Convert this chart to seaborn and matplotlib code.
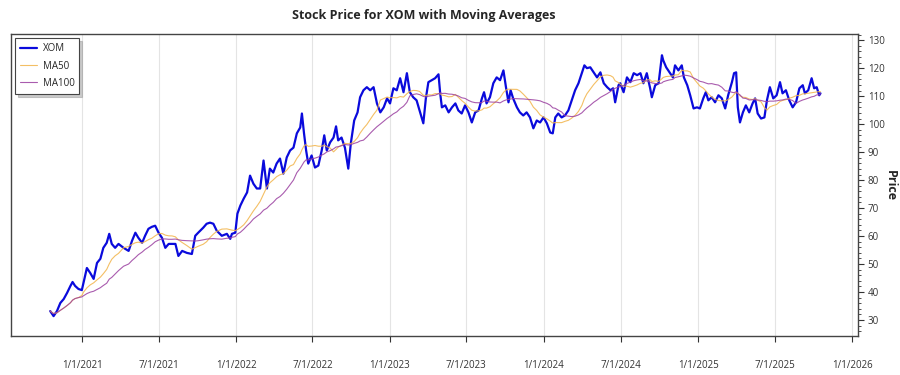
import pandas as pd
import matplotlib
matplotlib.use("Agg")
import matplotlib.pyplot as plt
import matplotlib.dates as mdates
from matplotlib.ticker import MultipleLocator
import seaborn as sns

# ── data (XOM close, roughly weekly samples) ──
dates = [
    "2020-10-17", "2020-10-25", "2020-11-02", "2020-11-10", "2020-11-18", "2020-11-26", "2020-12-04", "2020-12-09", "2020-12-15", "2020-12-23", "2020-12-31",
    "2021-01-04", "2021-01-12", "2021-01-20", "2021-01-28", "2021-02-05", "2021-02-13", "2021-02-20", "2021-02-28", "2021-03-06", "2021-03-12", "2021-03-20", "2021-03-28",
    "2021-04-09", "2021-04-21", "2021-04-29", "2021-05-07", "2021-05-14", "2021-05-23", "2021-05-30", "2021-06-07", "2021-06-15", "2021-06-23",
    "2021-07-01", "2021-07-09", "2021-07-17", "2021-07-25", "2021-08-02", "2021-08-10", "2021-08-17", "2021-08-26", "2021-09-06", "2021-09-18", "2021-09-26",
    "2021-10-03", "2021-10-15", "2021-10-23", "2021-10-31", "2021-11-08", "2021-11-16", "2021-11-28", "2021-12-10", "2021-12-18", "2021-12-22", "2021-12-30",
    "2022-01-04", "2022-01-11", "2022-01-19", "2022-01-27", "2022-02-03", "2022-02-11", "2022-02-19", "2022-02-27", "2022-03-07", "2022-03-15", "2022-03-22", "2022-03-30",
    "2022-04-07", "2022-04-15", "2022-04-23", "2022-05-01", "2022-05-09", "2022-05-17", "2022-05-25", "2022-06-02", "2022-06-06", "2022-06-11", "2022-06-16", "2022-06-21", "2022-06-29",
    "2022-07-07", "2022-07-15", "2022-07-23", "2022-07-29", "2022-08-04", "2022-08-12", "2022-08-20", "2022-08-26", "2022-08-31", "2022-09-08", "2022-09-16", "2022-09-24", "2022-09-30",
    "2022-10-08", "2022-10-16", "2022-10-22", "2022-10-30", "2022-11-07", "2022-11-15", "2022-11-23", "2022-12-01", "2022-12-09", "2022-12-17", "2022-12-25",
    "2023-01-01", "2023-01-09", "2023-01-17", "2023-01-25", "2023-02-02", "2023-02-10", "2023-02-17", "2023-02-25", "2023-03-05", "2023-03-12", "2023-03-21", "2023-03-27",
    "2023-04-02", "2023-04-10", "2023-04-18", "2023-04-26", "2023-04-30", "2023-05-04", "2023-05-12", "2023-05-20", "2023-05-28", "2023-06-05", "2023-06-12", "2023-06-20", "2023-06-28",
    "2023-07-06", "2023-07-14", "2023-07-22", "2023-07-30", "2023-08-07", "2023-08-12", "2023-08-18", "2023-08-26", "2023-09-03", "2023-09-11", "2023-09-19", "2023-09-27",
    "2023-10-03", "2023-10-09", "2023-10-14", "2023-10-20", "2023-10-29", "2023-11-05", "2023-11-13", "2023-11-21", "2023-11-29", "2023-12-07", "2023-12-15", "2023-12-23", "2023-12-31",
    "2024-01-08", "2024-01-16", "2024-01-22", "2024-01-28", "2024-02-04", "2024-02-12", "2024-02-20", "2024-02-28", "2024-03-07", "2024-03-15", "2024-03-23", "2024-03-31",
    "2024-04-06", "2024-04-12", "2024-04-20", "2024-04-28", "2024-05-06", "2024-05-14", "2024-05-22", "2024-05-30", "2024-06-07", "2024-06-13", "2024-06-18", "2024-06-26",
    "2024-06-30", "2024-07-08", "2024-07-16", "2024-07-24", "2024-08-01", "2024-08-09", "2024-08-17", "2024-08-24", "2024-09-01", "2024-09-09", "2024-09-13", "2024-09-21", "2024-09-29",
    "2024-10-07", "2024-10-10", "2024-10-17", "2024-10-25", "2024-11-02", "2024-11-07", "2024-11-15", "2024-11-23", "2024-11-28", "2024-12-06", "2024-12-13", "2024-12-21", "2024-12-29",
    "2025-01-05", "2025-01-13", "2025-01-19", "2025-01-25", "2025-02-02", "2025-02-10", "2025-02-18", "2025-02-26", "2025-03-06", "2025-03-13", "2025-03-22", "2025-03-27",
    "2025-04-01", "2025-04-05", "2025-04-10", "2025-04-17", "2025-04-24", "2025-05-02", "2025-05-10", "2025-05-16", "2025-05-22", "2025-05-30", "2025-06-07", "2025-06-13", "2025-06-20", "2025-06-28",
    "2025-07-06", "2025-07-14", "2025-07-20", "2025-07-28", "2025-08-05", "2025-08-13", "2025-08-21", "2025-08-29", "2025-09-06", "2025-09-11", "2025-09-19", "2025-09-27", "2025-10-03", "2025-10-09", "2025-10-15", "2025-10-18",
]

prices = [
    33.2, 31.4, 33.2, 36.1, 37.5, 39.7, 42.2, 43.6, 42.2, 41.1, 40.7,
    43.3, 48.6, 46.8, 44.7, 50.4, 51.9, 55.8, 57.6, 60.8, 57.2, 55.8, 57.2,
    55.8, 54.7, 58.3, 61.2, 59.4, 57.6, 60.1, 62.6, 63.3, 63.7,
    61.2, 59.4, 55.8, 57.2, 57.2, 57.2, 52.9, 54.7, 54.0, 53.6, 60.1,
    61.2, 63.0, 64.4, 64.8, 64.4, 61.9, 60.1, 60.8, 59.0, 60.8, 61.2,
    68.0, 70.9, 73.4, 75.6, 81.6, 78.7, 77.0, 77.0, 87.0, 77.0, 84.1, 82.7,
    85.9, 87.7, 82.3, 88.1, 90.6, 91.6, 96.7, 98.8, 103.8, 96.7, 90.6, 85.9, 88.8,
    84.5, 85.2, 90.6, 96.0, 90.6, 93.5, 95.2, 99.2, 94.2, 95.2, 91.6, 84.1, 93.1,
    101.3, 104.2, 109.6, 112.1, 113.2, 112.1, 113.2, 107.4, 104.2, 106.0, 109.2,
    107.4, 112.8, 112.1, 116.4, 111.4, 118.2, 111.4, 109.6, 108.5, 104.9, 100.3, 109.2,
    115.0, 115.7, 116.4, 117.8, 111.0, 106.0, 106.7, 104.2, 106.0, 107.4, 104.9, 103.8, 106.7,
    104.2, 100.6, 104.2, 104.9, 109.2, 111.4, 107.4, 109.6, 114.6, 116.7, 115.7, 119.2,
    113.2, 107.8, 112.1, 109.2, 106.0, 104.2, 103.1, 104.2, 102.4, 98.5, 101.3, 100.6, 102.4,
    100.3, 97.0, 96.7, 102.4, 103.8, 102.4, 103.1, 104.9, 108.5, 112.1, 114.6, 118.2,
    121.0, 120.0, 120.3, 118.5, 116.7, 118.5, 114.6, 113.2, 112.1, 112.8, 107.8, 113.9,
    114.6, 111.4, 116.7, 115.0, 118.2, 117.5, 118.2, 114.6, 118.2, 112.8, 109.6, 113.9, 114.6,
    124.6, 122.8, 120.3, 118.5, 116.7, 121.0, 119.2, 121.0, 116.7, 113.9, 110.3, 105.6, 106.0,
    105.6, 109.2, 111.4, 108.5, 109.6, 107.8, 110.3, 109.2, 105.6, 110.3, 115.0, 118.2,
    118.5, 106.0, 100.6, 104.2, 106.7, 104.2, 107.4, 109.2, 103.8, 102.0, 102.4, 108.5, 113.2, 109.2,
    110.3, 115.0, 111.0, 112.1, 108.5, 106.0, 107.8, 112.8, 113.9, 111.0, 112.1, 116.4, 112.8, 113.2, 110.3, 111.0,
]

ticker = "XOM"

df = pd.DataFrame({"Date": pd.to_datetime(dates), "Close": prices}).set_index("Date")
# 50 / 100 trading-day windows ~ 70 / 140 calendar days
df["MA50"] = df["Close"].rolling("70D").mean()
df["MA100"] = df["Close"].rolling("140D").mean()
df = df.reset_index()

# ── plot ──
sns.set_style("white")
plt.rcParams["font.family"] = ["Open Sans", "DejaVu Sans"]

fig = plt.figure(figsize=(9, 3.75), dpi=100)
ax = fig.add_axes([11 / 900, 39 / 375, 847 / 900, 302 / 375])

sns.lineplot(data=df, x="Date", y="Close", ax=ax, color="#0a0adc", linewidth=1.6, label=ticker)
sns.lineplot(data=df, x="Date", y="MA50", ax=ax, color="#f2b44a", linewidth=0.8, alpha=0.85, label="MA50")
sns.lineplot(data=df, x="Date", y="MA100", ax=ax, color="#9a3fa0", linewidth=0.8, alpha=0.85, label="MA100")

ax.set_xlim(pd.Timestamp("2020-07-16"), pd.Timestamp("2026-01-15"))
ax.set_ylim(24.3, 132.2)

ax.xaxis.set_major_locator(mdates.MonthLocator(bymonth=[1, 7]))
ax.xaxis.set_major_formatter(mdates.DateFormatter("%-m/%-d/%Y"))
ax.xaxis.grid(True, color="#e4e4e4", linewidth=0.8)
ax.yaxis.grid(False)

ax.yaxis.tick_right()
ax.yaxis.set_label_position("right")
ax.yaxis.set_major_locator(MultipleLocator(10))
ax.yaxis.set_minor_locator(MultipleLocator(2))
ax.tick_params(axis="x", which="major", direction="out", length=4, width=0.8,
               color="#333333", labelsize=7, labelcolor="#333333", pad=13, bottom=True)
ax.tick_params(axis="y", which="major", direction="out", length=4, width=0.8,
               color="#333333", labelsize=7, labelcolor="#333333", pad=3, right=True, left=False)
ax.tick_params(axis="y", which="minor", direction="out", length=2, width=0.6,
               color="#333333", right=True, left=False)

for s in ax.spines.values():
    s.set_color("#444444")
    s.set_linewidth(1.0)

ax.set_xlabel("")
ax.set_ylabel("Price", rotation=270, fontsize=9, fontweight="bold", labelpad=9)
ax.set_title(f"Stock Price for {ticker} with Moving Averages", fontsize=9, fontweight="bold",
             pad=11, x=0.487)

leg = ax.legend(loc="upper left", fontsize=7, frameon=True, fancybox=False,
                shadow={"ox": 2, "oy": -2, "color": "0.6", "alpha": 0.5},
                borderpad=0.5, labelspacing=0.65, handlelength=1.7, handletextpad=0.6,
                borderaxespad=0.45)
leg.get_frame().set_edgecolor("#444444")
leg.get_frame().set_linewidth(0.8)

plt.savefig("out.png", dpi=100)
